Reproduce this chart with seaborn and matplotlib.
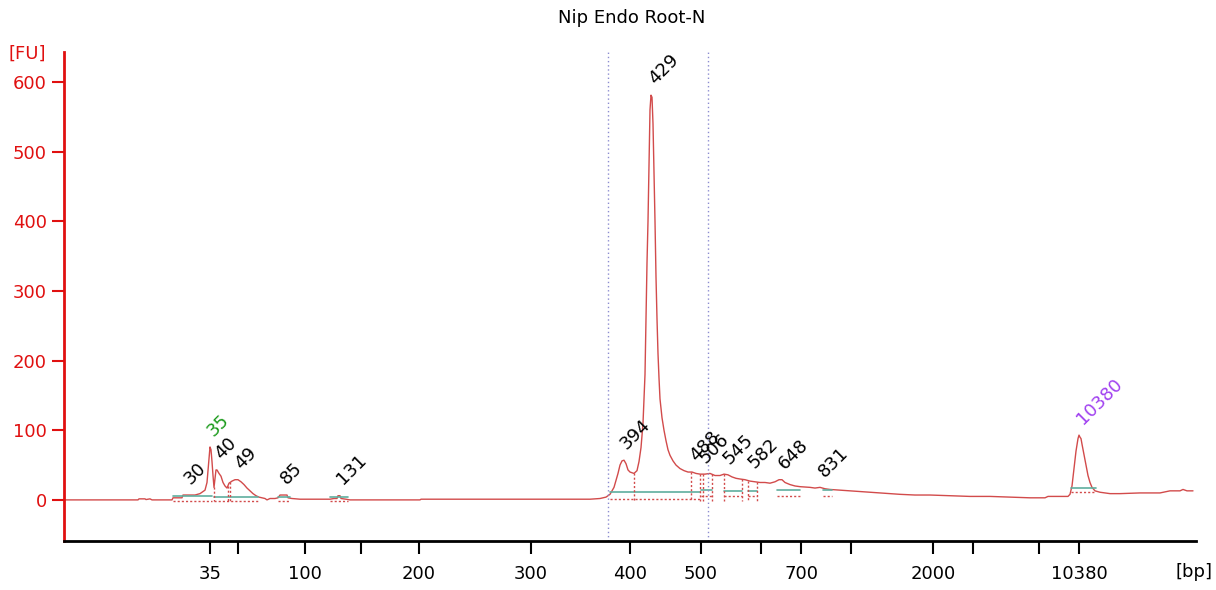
import matplotlib
matplotlib.use("Agg")
import matplotlib.pyplot as plt
import seaborn as sns
import pandas as pd
import numpy as np

# trace: migration position (arbitrary units) vs fluorescence [FU]
pos = [64, 138, 139, 145, 146, 150, 152, 160, 172, 173, 182, 183, 195, 200, 205, 207,
       209, 210, 211, 212, 213, 214, 215, 216, 217, 219, 221, 223, 225, 227, 229, 232,
       235, 238, 241, 244, 247, 250, 253, 256, 259, 262, 265, 267, 270, 275, 278, 280,
       287, 288, 292, 300, 310, 330, 334, 337, 338, 340, 341, 346, 350, 420, 421, 480,
       590, 600, 606, 610, 614, 618, 620, 622, 624, 626, 628, 630, 634, 637, 639, 641,
       643, 645, 646, 647, 648, 649, 650, 651, 652, 653, 654, 655, 656, 657, 658, 659,
       660, 662, 664, 666, 668, 670, 673, 676, 680, 684, 688, 692, 696, 700, 705, 710,
       715, 720, 724, 728, 732, 736, 740, 745, 750, 755, 760, 765, 770, 775, 779, 782,
       785, 790, 795, 800, 810, 815, 820, 825, 830, 840, 850, 860, 870, 880, 890, 900,
       915, 930, 950, 970, 990, 1010, 1030, 1045, 1048, 1068, 1070, 1072, 1074, 1076,
       1078, 1079, 1080, 1081, 1082, 1084, 1086, 1088, 1090, 1092, 1095, 1100, 1105,
       1110, 1120, 1140, 1160, 1170, 1180, 1183, 1187, 1193]
fu = [0, 0, 1.5, 1.5, 0.5, 1.5, 0, 0, 0, 3, 3, 7, 7, 9, 14, 25,
      60, 76, 72, 55, 35, 18, 30, 43, 43, 38, 34, 25, 20, 17, 24, 27,
      29, 29, 26, 22, 17, 13, 9, 6, 4, 3, 2, 0, 2, 2, 3, 7,
      7, 3, 2, 1, 1, 1, 2, 2, 6, 6, 2, 1, 0, 0, 1, 1,
      1, 2, 4, 8, 18, 38, 50, 56, 57, 52, 43, 40, 38, 42, 55, 75,
      110, 180, 260, 340, 400, 480, 560, 581, 578, 540, 470, 400, 320, 260, 210, 175,
      145, 118, 100, 85, 72, 64, 56, 50, 45, 42, 40, 40, 38, 37, 37, 38,
      35, 35, 37, 36, 33, 31, 30, 29, 27, 26, 25, 25, 24, 26, 29, 29,
      25, 22, 20, 19, 18, 17, 18, 16, 15, 14, 13, 12, 11, 10, 9, 8,
      7, 7, 6, 5, 5, 4, 3, 3, 5, 5, 8, 20, 45, 70,
      88, 93, 90, 88, 80, 65, 50, 35, 25, 18, 13, 11, 10,
      9, 9, 10, 10, 13, 13, 15, 13, 13]

# called peaks: size [bp], position, height [FU]
peak_size = ["30", "35", "40", "49", "85", "131", "394", "429", "488", "506",
             "545", "582", "648", "831", "10380"]
peak_pos = [187, 210, 217, 237, 283, 339, 623, 651, 692, 702, 726, 751, 781, 821, 1079]
peak_fu = [7, 76, 43, 29, 7, 7, 57, 581, 40, 38, 36, 30, 29, 18, 93]

# integration windows: start, end, baseline level of the peak [FU], lower dotted level
win_start = [173, 214, 278, 330, 610, 701, 724, 748, 777, 823, 1071]
win_end = [212, 258, 290, 348, 700, 712, 742, 757, 800, 832, 1096]
win_base = [5, 4, 4, 4, 11, 14, 13, 13, 14, 14, 17]
win_low = [0, 0, 0, 0, 4, 8, 8, 8, 8, 8, 13]
split_pos = [214, 228, 230, 634, 691, 700, 703, 712, 724, 742, 748, 757]

# region markers and x axis ladder
region = [608, 708]
tick_pos = [210, 238, 305, 361, 419, 531, 630, 701, 761, 801, 851, 933, 973, 1039, 1079]
tick_lab = ["35", "", "100", "", "200", "300", "400", "500", "", "700", "", "2000",
            "", "", "10380"]

sns.set_style("white")
plt.rcParams["font.family"] = ["DejaVu Sans"]

fig = plt.figure(figsize=(12.16, 5.90), dpi=100)
ax = fig.add_axes([64 / 1216, 49 / 590, 1132 / 1216, 489 / 590])

df = pd.DataFrame({"pos": pos, "fu": fu})
red = "#d24b4b"
sns.lineplot(data=df, x="pos", y="fu", ax=ax, color=red, lw=1, sort=False)

# integration marks
for s, e, b, lo in zip(win_start, win_end, win_base, win_low):
    ax.plot([s, e], [b, b], color="#5fae9e", lw=1.2)
    ax.plot([s, e], [lo - 2, lo - 2], color=red, lw=1, ls=(0, (1.5, 1.5)))
for x in split_pos:
    ax.plot([x, x], [np.interp(x, pos, fu), -1], color=red, lw=1, ls=(0, (1.5, 1.5)))

for x in region:
    ax.axvline(x, color="#8c8cd0", lw=1, ls=(0, (1, 2)))

for lab, x, y in zip(peak_size, peak_pos, peak_fu):
    c = "#1a9a1a" if lab == "35" else ("#a040f0" if lab == "10380" else "black")
    ax.annotate(lab, (x, y), xytext=(-4.5, 5), textcoords="offset points",
                rotation=45, ha="left", va="bottom", fontsize=13, color=c)

ax.set_xlim(64, 1196)
ax.set_ylim(-59, 643)
ax.set_xlabel("")
ax.set_ylabel("")
ax.set_xticks(tick_pos)
ax.set_xticklabels(tick_lab)
ax.set_yticks([0, 100, 200, 300, 400, 500, 600])

for s in ["top", "right"]:
    ax.spines[s].set_visible(False)
ax.spines["left"].set_color("#e01010")
ax.spines["left"].set_linewidth(2)
ax.spines["bottom"].set_color("black")
ax.spines["bottom"].set_linewidth(2)
ax.tick_params(axis="y", colors="#e01010", labelcolor="#e01010", length=9, width=1.5,
               labelsize=13, direction="out", left=True)
ax.tick_params(axis="x", colors="black", length=9, width=1.5, labelsize=13,
               direction="out", bottom=True, pad=8)

fig.text(27 / 1216, 1 - 54 / 590, "[FU]", color="#e01010", fontsize=13,
         ha="center", va="center")
fig.text(1194 / 1216, 1 - 572 / 590, "[bp]", color="black", fontsize=13,
         ha="center", va="center")
fig.text(632 / 1216, 1 - 18 / 590, "Nip Endo Root-N", color="black", fontsize=13,
         ha="center", va="center")

fig.savefig("out.png", dpi=100)
